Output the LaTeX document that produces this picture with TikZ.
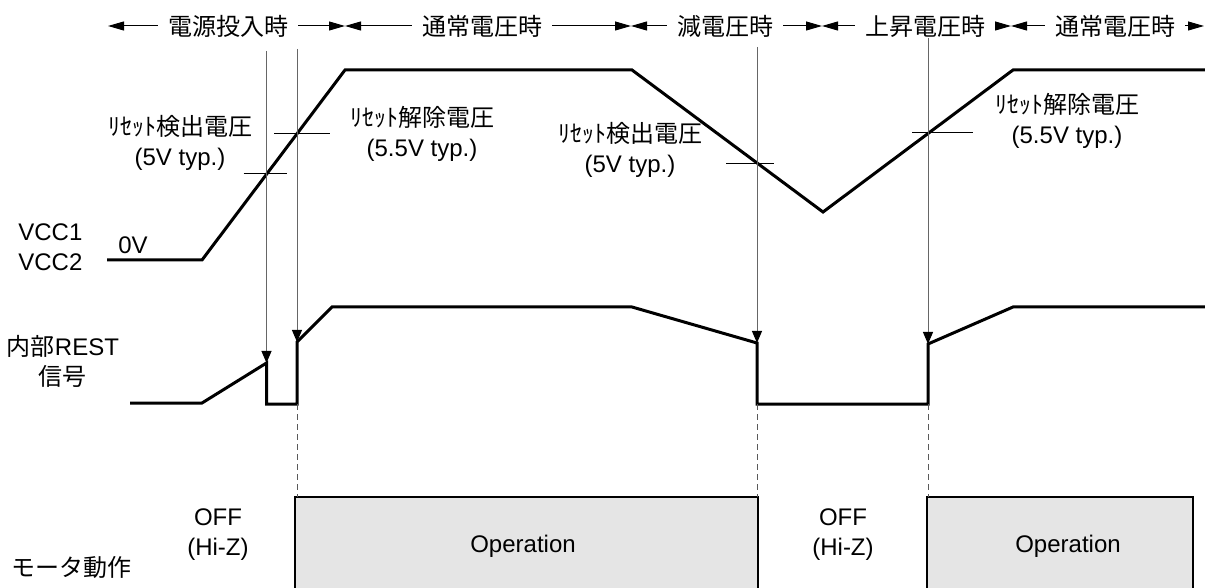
\documentclass[tikz,border=0pt]{standalone}
\usepackage{fontspec}
\setmainfont{Liberation Sans}
\newfontfamily\jpfont{Noto Sans CJK JP}
\usetikzlibrary{arrows.meta}
\newcommand\ja[1]{{\jpfont #1}}

\begin{document}
\begin{tikzpicture}[x=0.5pt,y=-0.5pt,
    font=\fontsize{12}{15}\selectfont,
    wave/.style={line width=1.5pt,line join=miter},
    tick/.style={line width=0.5pt},
    marker/.style={black!60,line width=0.5pt,-{Triangle[length=6pt,width=5pt,black]}},
    guide/.style={densely dashed,black!65,line width=0.5pt},
    hdr/.style={line width=0.5pt,-{Triangle[length=8pt,width=4.5pt]}},
    head/.style={inner xsep=5pt,inner ysep=0pt},
    opbox/.style={fill=black!10,draw=black,line width=1.2pt},
    lbl/.style={align=center,inner sep=0pt}]

  \clip (0,0) rectangle (1205,588);

  % phase header
  \coordinate (b0) at (108,26);
  \coordinate (b1) at (345,26);
  \coordinate (b2) at (631,26);
  \coordinate (b3) at (822,26);
  \coordinate (b4) at (1011,26);
  \coordinate (b5) at (1204,26);
  \node[head] (h1) at (228,26) {\ja{電源投入時}};
  \node[head] (h2) at (482,26) {\ja{通常電圧時}};
  \node[head] (h3) at (725,26) {\ja{減電圧時}};
  \node[head] (h4) at (925,26) {\ja{上昇電圧時}};
  \node[head] (h5) at (1115,26) {\ja{通常電圧時}};
  \foreach \n/\l/\r in {1/b0/b1, 2/b1/b2, 3/b2/b3, 4/b3/b4, 5/b4/b5} {
    \draw[hdr] (h\n) -- (\l);
    \draw[hdr] (h\n) -- (\r);}

  % VCC waveform
  \draw[wave] (107,260) -- (202,260) -- (345,70) -- (632,70)
    -- (823,212) -- (1013,70) -- (1210,70);
  \coordinate (c1) at (266.5,174);
  \coordinate (c2) at (297,134);
  \coordinate (c3) at (757,164);
  \coordinate (c4) at (928,133);
  \draw[tick] (c1) ++(-23,0) -- ++(43,0);
  \draw[tick] (c2) ++(-23,0) -- ++(56,0);
  \draw[tick] (c3) ++(-31,0) -- ++(48,0);
  \draw[tick] (c4) ++(-16,0) -- ++(61,0);

  % internal reset signal
  \coordinate (r1) at (266.5,363);
  \coordinate (r2) at (297,342);
  \coordinate (r3) at (757,343);
  \coordinate (r4) at (928,344);
  \draw[wave] (130,403) -- (202,403) -- (r1) -- (266.5,404) -- (297,404)
    -- (r2) -- (332,307) -- (632,307) -- (r3) -- (757,404) -- (928,404)
    -- (r4) -- (1013,307) -- (1210,307);

  % detection markers
  \coordinate (m1) at (266.5,51);
  \coordinate (m2) at (297,49);
  \coordinate (m3) at (757,47);
  \coordinate (m4) at (928,38);
  \foreach \i in {1,...,4} {
    \draw[marker] (m\i) -- (r\i);}

  % motor operation
  \draw[opbox] (295,497) coordinate (o1) rectangle (758,620);
  \draw[opbox] (927,497) coordinate (o2) rectangle (1193,620);
  \draw[guide] (297,404) -- (297,497);
  \draw[guide] (757,404) -- (757,497);
  \draw[guide] (928,404) -- (928,497);
  \node (op1) at (523,546) {Operation};
  \node (op2) at (1068,546) {Operation};
  \node[lbl] (off1) at (218,535) {OFF\\(Hi-Z)};
  \node[lbl] (off2) at (843,535) {OFF\\(Hi-Z)};

  % labels
  \node[lbl] (det1) at (180,143) {\ja{ﾘｾｯﾄ検出電圧}\\(5V typ.)};
  \node[lbl] (rel1) at (422,134) {\ja{ﾘｾｯﾄ解除電圧}\\(5.5V typ.)};
  \node[lbl] (det2) at (630,150) {\ja{ﾘｾｯﾄ検出電圧}\\(5V typ.)};
  \node[lbl] (rel2) at (1067,121) {\ja{ﾘｾｯﾄ解除電圧}\\(5.5V typ.)};
  \node[lbl,align=left,anchor=west] (vcc) at (18,247) {VCC1\\VCC2};
  \node[lbl] (zero) at (133,245) {0V};
  \node[lbl] (rest) at (63,361) {\ja{内部}REST\\\ja{信号}};
  \node[lbl] (motor) at (71,567) {\ja{モータ動作}};
\end{tikzpicture}
\end{document}
